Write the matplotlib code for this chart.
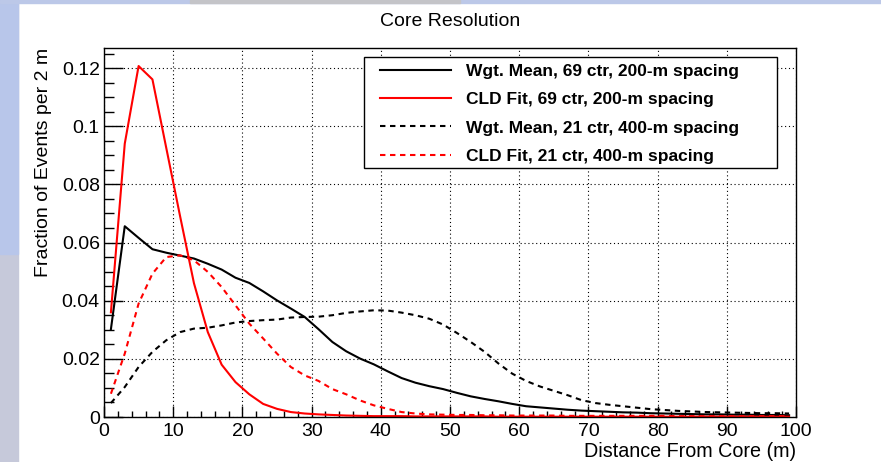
import numpy as np
import matplotlib.pyplot as plt
from matplotlib.patches import Rectangle
from matplotlib.ticker import MultipleLocator

OUTPUT = "out.png"

# bin centres (2 m bins)
distance = np.arange(1, 100, 2)

wm_69 = [0.0302, 0.0656, 0.0616, 0.0577, 0.0565, 0.0555, 0.0545, 0.0527, 0.0507, 0.0479,
         0.0461, 0.0432, 0.0401, 0.0373, 0.0344, 0.0302, 0.0258, 0.0226, 0.0201, 0.0181,
         0.0157, 0.0134, 0.0118, 0.0106, 0.0096, 0.0083, 0.0071, 0.0062, 0.0054, 0.0045,
         0.0037, 0.0033, 0.0029, 0.0025, 0.0022, 0.0020, 0.0018, 0.0016, 0.0015, 0.0013,
         0.0012, 0.0011, 0.0010, 0.0009, 0.0009, 0.0008, 0.0008, 0.0007, 0.0007, 0.0006]

cld_69 = [0.0360, 0.0940, 0.1207, 0.1161, 0.0925, 0.0690, 0.0460, 0.0292, 0.0180, 0.0120,
          0.0078, 0.0045, 0.0028, 0.0017, 0.0012, 0.0009, 0.0007, 0.0005, 0.0004, 0.0003,
          0.0003, 0.0003, 0.0002, 0.0002, 0.0002, 0.0002, 0.0002, 0.0002, 0.0001, 0.0001,
          0.0001, 0.0001, 0.0001, 0.0001, 0.0001, 0.0001, 0.0001, 0.0001, 0.0001, 0.0001,
          0.0001, 0.0001, 0.0001, 0.0001, 0.0001, 0.0001, 0.0001, 0.0001, 0.0001, 0.0001]

wm_21 = [0.0048, 0.0103, 0.0172, 0.0224, 0.0264, 0.0292, 0.0304, 0.0307, 0.0315, 0.0325,
         0.0330, 0.0333, 0.0335, 0.0342, 0.0344, 0.0345, 0.0350, 0.0358, 0.0363, 0.0367,
         0.0366, 0.0359, 0.0350, 0.0338, 0.0318, 0.0289, 0.0258, 0.0224, 0.0184, 0.0149,
         0.0124, 0.0105, 0.0090, 0.0075, 0.0058, 0.0048, 0.0042, 0.0037, 0.0032, 0.0027,
         0.0024, 0.0021, 0.0019, 0.0017, 0.0016, 0.0015, 0.0014, 0.0013, 0.0013, 0.0012]

cld_21 = [0.0080, 0.0218, 0.0390, 0.0493, 0.0550, 0.0556, 0.0539, 0.0499, 0.0447, 0.0384,
          0.0321, 0.0270, 0.0218, 0.0172, 0.0143, 0.0124, 0.0096, 0.0078, 0.0057, 0.0040,
          0.0028, 0.0017, 0.0012, 0.0009, 0.0008, 0.0007, 0.0007, 0.0006, 0.0006, 0.0005,
          0.0005, 0.0005, 0.0005, 0.0004, 0.0004, 0.0004, 0.0004, 0.0004, 0.0004, 0.0004,
          0.0004, 0.0003, 0.0003, 0.0003, 0.0003, 0.0003, 0.0003, 0.0003, 0.0003, 0.0003]

labels = ["Wgt. Mean, 69 ctr, 200-m spacing",
          "CLD Fit, 69 ctr, 200-m spacing",
          "Wgt. Mean, 21 ctr, 400-m spacing",
          "CLD Fit, 21 ctr, 400-m spacing"]

yticks = [0, 0.02, 0.04, 0.06, 0.08, 0.1, 0.12]
ytick_labels = ["0", "0.02", "0.04", "0.06", "0.08", "0.1", "0.12"]


def main():
    plt.rcParams["font.family"] = ["Liberation Sans", "DejaVu Sans"]
    W, H = 881, 462
    fig = plt.figure(figsize=(W / 100, H / 100), dpi=100)
    fig.patch.set_facecolor("white")

    # slide background peeking out at the left and top edges
    fig.patches.append(Rectangle((0, 0), 18 / W, 1, transform=fig.transFigure,
                                 color="#c6c9da", zorder=-10))
    fig.patches.append(Rectangle((0, 0.45), 18 / W, 0.55, transform=fig.transFigure,
                                 color="#b8c6ea", zorder=-9))
    fig.patches.append(Rectangle((0, 1 - 3 / H), 1, 3 / H, transform=fig.transFigure,
                                 color="#bcc8e8", zorder=-9))
    fig.patches.append(Rectangle((190 / W, 1 - 3 / H), 270 / W, 3 / H, transform=fig.transFigure,
                                 color="#c4c4c8", zorder=-8))

    ax = fig.add_axes([104 / W, 1 - 417 / H, 692 / W, 369 / H])

    dash = (0, (2.6, 2.2))
    ax.plot(distance, wm_69, color="black", lw=1.5, label=labels[0])
    ax.plot(distance, cld_69, color="red", lw=1.5, label=labels[1])
    ax.plot(distance, wm_21, color="black", lw=1.5, ls=dash, label=labels[2])
    ax.plot(distance, cld_21, color="red", lw=1.5, ls=dash, label=labels[3])

    ax.set_xlim(0, 100)
    ax.set_ylim(0, 0.1269)
    ax.xaxis.set_major_locator(MultipleLocator(10))
    ax.xaxis.set_minor_locator(MultipleLocator(2))
    ax.set_yticks(yticks)
    ax.set_yticklabels(ytick_labels)
    ax.yaxis.set_minor_locator(MultipleLocator(0.005))

    ax.tick_params(axis="both", which="both", direction="in", labelsize=14,
                   top=False, right=False, colors="black")
    ax.tick_params(axis="x", which="major", length=8, width=1, pad=4)
    ax.tick_params(axis="x", which="minor", length=4, width=1)
    ax.tick_params(axis="y", which="major", length=14, width=1, pad=3)
    ax.tick_params(axis="y", which="minor", length=7, width=1)

    ax.grid(True, which="major", color="black", lw=0.8, ls=(0, (1, 2.5)))
    for s in ax.spines.values():
        s.set_linewidth(1.0)

    ax.set_title("Core Resolution", fontsize=14, pad=16)
    ax.set_xlabel("Distance From Core (m)", fontsize=14.2, loc="right")
    ax.xaxis.set_label_coords(1.0, -0.069)
    ax.set_ylabel("Fraction of Events per 2 m", fontsize=14)
    ax.yaxis.label.set(ha="right", va="center", rotation_mode="anchor")
    ax.yaxis.set_label_coords(-0.088, 1.0)

    # legend box (drawn like ROOT's TLegend)
    x0, x1 = (364 - 104) / 692, (777 - 104) / 692
    y0, y1 = (417 - 168) / 369, (417 - 57) / 369
    ax.add_patch(Rectangle((x0, y0), x1 - x0, y1 - y0, transform=ax.transAxes,
                           facecolor="white", edgecolor="black", lw=1.0, zorder=4))
    leg = ax.legend(loc="upper left", bbox_to_anchor=((380 - 104) / 692, (417 - 64) / 369),
                    frameon=False, borderpad=0, borderaxespad=0,
                    handlelength=4.1, handletextpad=0.85, labelspacing=0.75,
                    prop={"weight": "bold", "size": 12.5})
    leg.set_zorder(5)

    fig.savefig(OUTPUT, dpi=100, facecolor=fig.get_facecolor())
    plt.close(fig)


if __name__ == "__main__":
    main()
